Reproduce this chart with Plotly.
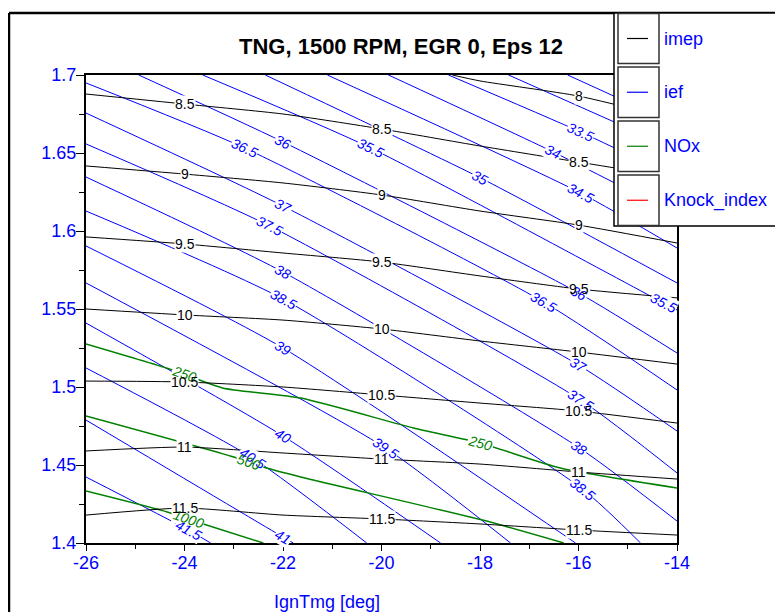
import numpy as np
import plotly.graph_objects as go

# ---------------- data ----------------
# imep contour lines (black)
imep_levels = [8, 8.5, 9, 9.5, 10, 10.5, 11, 11.5]
imep_grid_x = [-26, -24, -22, -20, -18, -16, -14]
imep_xs = [[-18.56, -18, -16, -14]] + [imep_grid_x] * 7
imep_ys = [
    [1.7000, 1.6962, 1.6865, 1.6712],
    [1.6878, 1.6814, 1.6750, 1.6654, 1.6545, 1.6442, 1.6340],
    [1.6417, 1.6365, 1.6308, 1.6231, 1.6128, 1.6038, 1.5923],
    [1.5962, 1.5917, 1.5859, 1.5801, 1.5712, 1.5628, 1.5571],
    [1.5500, 1.5462, 1.5429, 1.5372, 1.5295, 1.5224, 1.5147],
    [1.5038, 1.5032, 1.5000, 1.4949, 1.4897, 1.4846, 1.4769],
    [1.4590, 1.4615, 1.4577, 1.4538, 1.4506, 1.4455, 1.4410],
    [1.4179, 1.4224, 1.4179, 1.4154, 1.4122, 1.4083, 1.4051],
]
imep_label_x = [[-16], [-24, -20, -16], [-24, -20, -16], [-24, -20, -16],
                [-24, -20, -16], [-24, -20, -16], [-24, -20, -16], [-24, -20, -16]]

# ief contour lines (blue)
ief_levels = [32.5, 33, 33.5, 34, 34.5, 35, 35.5, 36, 36.5, 37, 37.5,
              38, 38.5, 39, 39.5, 40, 40.5, 41, 41.5]
ief_xs = [
    [-16.22, -14.0],
    [-17.42, -14.0],
    [-18.64, -15.96, -14.0],
    [-19.86, -16.51, -14.0],
    [-21.10, -15.96, -14.0],
    [-22.36, -17.99, -14.0],
    [-23.63, -20.22, -14.27, -14.0],
    [-24.93, -22.0, -16.0, -14.0],
    [-26.0, -22.78, -16.71, -14.0],
    [-26.0, -22.0, -16.0, -14.0],
    [-26.0, -22.27, -15.96, -14.0],
    [-26.0, -22.0, -15.98, -14.0],
    [-26.0, -22.0, -15.92, -14.74],
    [-26.0, -22.0, -16.06],
    [-26.0, -19.92, -17.38],
    [-26.0, -22.0, -18.80],
    [-26.0, -22.62, -20.30],
    [-26.0, -22.0, -21.79],
    [-26.0, -23.92, -23.47],
]
ief_ys = [
    [1.7000, 1.6680],
    [1.7000, 1.6520],
    [1.7000, 1.6635, 1.6340],
    [1.7000, 1.6506, 1.6103],
    [1.7000, 1.6244, 1.5891],
    [1.7000, 1.6340, 1.5667],
    [1.7000, 1.6532, 1.5538, 1.5494],
    [1.7000, 1.6571, 1.5603, 1.5218],
    [1.6949, 1.6532, 1.5545, 1.4981],
    [1.6756, 1.6160, 1.5141, 1.4718],
    [1.6558, 1.6032, 1.4917, 1.4449],
    [1.6346, 1.5737, 1.4609, 1.4141],
    [1.6128, 1.5564, 1.4346, 1.4000],
    [1.5904, 1.5250, 1.4000],
    [1.5667, 1.4609, 1.4000],
    [1.5410, 1.4686, 1.4000],
    [1.5122, 1.4545, 1.4000],
    [1.4788, 1.4038, 1.4000],
    [1.4423, 1.4083, 1.4000],
]
ief_label_x = [[], [], [-15.96], [-16.51], [-15.96], [-17.99], [-20.22, -14.27],
               [-22.0, -16.0], [-22.78, -16.71], [-22.0, -16.0], [-22.27, -15.96],
               [-22.0, -15.98], [-22.0, -15.92], [-22.0], [-19.92], [-22.0],
               [-22.62], [-22.0], [-23.92]]

# NOx contour lines (green)
nox_levels = [250, 500, 1000]
nox_xs = [
    [-26.0, -24.24, -23.23, -21.64, -19.35, -18.0, -16.37, -14.0],
    [-26.0, -23.0, -22.4, -21.64, -17.95, -16.30],
    [-26.0, -24.35, -23.68, -22.40],
]
nox_ys = [
    [1.5276, 1.5109, 1.4994, 1.4929, 1.4737, 1.4641, 1.4481, 1.4353],
    [1.4814, 1.4551, 1.4487, 1.4423, 1.4147, 1.4000],
    [1.4333, 1.4199, 1.4128, 1.4000],
]
nox_label_x = [[-24.0, -18.0], [-22.70], [-23.92]]

legend_names = ["imep", "ief", "NOx", "Knock_index"]

x_range = [-26, -14]
y_range = [1.4, 1.7]
x_tickvals = [-26, -24, -22, -20, -18, -16, -14]
x_ticktext = ["-26", "-24", "-22", "-20", "-18", "-16", "-14"]
y_tickvals = [1.4, 1.45, 1.5, 1.55, 1.6, 1.65, 1.7]
y_ticktext = ["1.4", "1.45", "1.5", "1.55", "1.6", "1.65", "1.7"]

# ---------------- styling / layout ----------------
OFF = 8                      # page body margin of the browser
W, H = 775, 604
ML, MT, PW, PH = 78, 67, 591, 468
MR, MB = W - ML - PW, H - MT - PH
FONT = "Arial, Liberation Sans, sans-serif"
BLUE = "#0000ff"
GREEN = "#008000"

def pxx(p):  # screen pixel -> paper x
    return (p - OFF - ML) / PW

def pxy(p):  # screen pixel -> paper y
    return 1 - (p - OFF - MT) / PH

kx = PW / (x_range[1] - x_range[0])
ky = PH / (y_range[1] - y_range[0])

fig = go.Figure()
masks = []
texts = []
shapes = []

def add_family(levels, xs, ys, label_xs, color, width, italic, rotate):
    for lev, x, y, lxs in zip(levels, xs, ys, label_xs):
        fig.add_trace(go.Scatter(x=x, y=y, mode="lines",
                                 line=dict(color=color, width=width, shape="spline", smoothing=0.6),
                                 showlegend=False, hoverinfo="skip"))
        for lx in lxs:
            ly = float(np.interp(lx, x, y))
            ang = 0
            if rotate:
                x0, x1 = max(lx - 0.3, min(x)), min(lx + 0.3, max(x))
                y0, y1 = np.interp(x0, x, y), np.interp(x1, x, y)
                ang = float(np.degrees(np.arctan2(-(y1 - y0) * ky, (x1 - x0) * kx)))
            base = dict(x=lx, y=ly, xref="x", yref="y", text=f"{lev:g}",
                        showarrow=False, textangle=ang, borderpad=0)
            fnt = dict(family=FONT, size=14, style="italic" if italic else "normal")
            masks.append(dict(base, bgcolor="white", font=dict(fnt, color="white")))
            texts.append(dict(base, font=dict(fnt, color=color)))

add_family(ief_levels, ief_xs, ief_ys, ief_label_x, BLUE, 1, True, True)
add_family(nox_levels, nox_xs, nox_ys, nox_label_x, GREEN, 1.5, True, True)
add_family(imep_levels, imep_xs, imep_ys, imep_label_x, "black", 1, False, False)

annotations = masks + texts

# outer frame (top and left edges visible)
shapes.append(dict(type="line", xref="paper", yref="paper", x0=pxx(9), x1=pxx(800),
                   y0=pxy(13), y1=pxy(13), line=dict(color="black", width=2.5), layer="above"))
shapes.append(dict(type="line", xref="paper", yref="paper", x0=pxx(9), x1=pxx(9),
                   y0=pxy(13), y1=pxy(640), line=dict(color="black", width=2.5), layer="above"))

# custom legend
shapes.append(dict(type="rect", xref="paper", yref="paper", x0=pxx(614), x1=pxx(800),
                   y0=pxy(226), y1=pxy(13), fillcolor="white",
                   line=dict(color="black", width=1.5), layer="above"))
rows = [(13.5, 63.5), (67, 117.5), (121, 171.5), (175, 225.5)]
legend_colors = ["black", BLUE, GREEN, "red"]
for name, col, (t, b) in zip(legend_names, legend_colors, rows):
    shapes.append(dict(type="rect", xref="paper", yref="paper", x0=pxx(618), x1=pxx(659),
                       y0=pxy(b), y1=pxy(t), fillcolor="white",
                       line=dict(color="#333333", width=1.5), layer="above"))
    cy = (t + b) / 2
    shapes.append(dict(type="line", xref="paper", yref="paper", x0=pxx(627), x1=pxx(648),
                       y0=pxy(cy), y1=pxy(cy), line=dict(color=col, width=1.2), layer="above"))
    annotations.append(dict(x=pxx(662), y=pxy(cy), xref="paper", yref="paper", text=name,
                            showarrow=False, xanchor="left", yanchor="middle",
                            font=dict(family=FONT, size=18, color=BLUE)))

# title and axis title
annotations.append(dict(x=pxx(401), y=pxy(46), xref="paper", yref="paper",
                        text="<b>TNG, 1500 RPM, EGR 0, Eps 12</b>", showarrow=False,
                        xanchor="center", yanchor="middle",
                        font=dict(family=FONT, size=22, color="black")))
annotations.append(dict(x=pxx(327), y=pxy(602), xref="paper", yref="paper",
                        text="IgnTmg [deg]", showarrow=False,
                        xanchor="center", yanchor="middle",
                        font=dict(family=FONT, size=18, color=BLUE)))

fig.update_layout(
    width=W, height=H, margin=dict(l=ML, r=MR, t=MT, b=MB),
    paper_bgcolor="white", plot_bgcolor="white",
    showlegend=False, annotations=annotations, shapes=shapes,
    font=dict(family=FONT),
)
fig.update_xaxes(range=x_range, tickvals=x_tickvals, ticktext=x_ticktext,
                 showgrid=False, zeroline=False,
                 showline=True, linecolor="black", linewidth=2, mirror=True,
                 ticks="outside", ticklen=6, tickcolor="black", tickwidth=1,
                 ticklabelstandoff=-4,
                 tickfont=dict(family=FONT, size=18, color=BLUE),
                 minor=dict(dtick=1, tick0=-26, ticks="outside", ticklen=4,
                            tickcolor="black", showgrid=False))
fig.update_yaxes(range=y_range, tickvals=y_tickvals, ticktext=y_ticktext,
                 showgrid=False, zeroline=False,
                 showline=True, linecolor="black", linewidth=2, mirror=True,
                 ticks="outside", ticklen=8, tickcolor="black", tickwidth=1,
                 ticklabelstandoff=-4,
                 tickfont=dict(family=FONT, size=18, color=BLUE),
                 minor=dict(dtick=0.025, tick0=1.4, ticks="outside", ticklen=5,
                            tickcolor="black", showgrid=False))

fig.write_html("out.html")
